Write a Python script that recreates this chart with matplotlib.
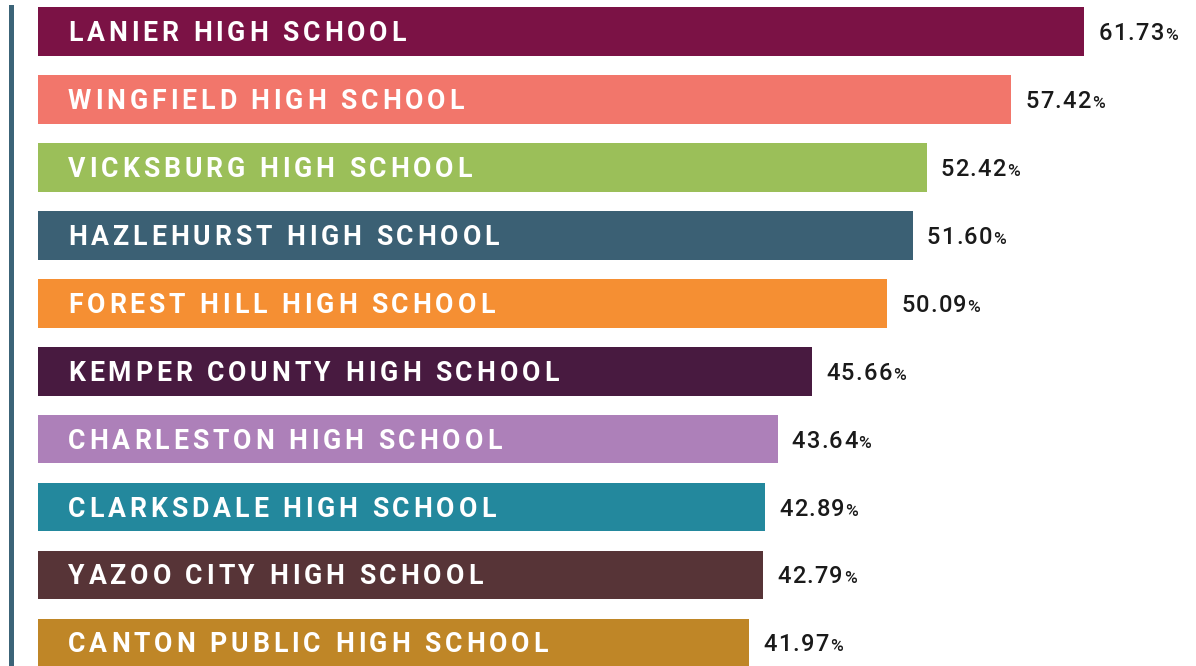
import matplotlib
matplotlib.use('Agg')
import matplotlib.pyplot as plt
from matplotlib.transforms import offset_copy
from matplotlib.font_manager import FontProperties

schools = ["LANIER HIGH SCHOOL", "WINGFIELD HIGH SCHOOL", "VICKSBURG HIGH SCHOOL",
           "HAZLEHURST HIGH SCHOOL", "FOREST HILL HIGH SCHOOL", "KEMPER COUNTY HIGH SCHOOL",
           "CHARLESTON HIGH SCHOOL", "CLARKSDALE HIGH SCHOOL", "YAZOO CITY HIGH SCHOOL",
           "CANTON PUBLIC HIGH SCHOOL"]
values = [61.73, 57.42, 52.42, 51.60, 50.09, 45.66, 43.64, 42.89, 42.79, 41.97]
value_labels = ["61.73", "57.42", "52.42", "51.60", "50.09", "45.66", "43.64", "42.89", "42.79", "41.97"]
colors = ["#7B1245", "#F2766B", "#9BBF59", "#3B6074", "#F58F33", "#481A40",
          "#AD80B9", "#23889D", "#573437", "#BF8627"]

W, H = 1196, 666
fig = plt.figure(figsize=(W / 100, H / 100), dpi=100)
ax = fig.add_axes([38 / W, 0, (W - 38) / W, (H - 7) / H])
ax.set_xlim(0, (W - 38) / 16.95)
ax.set_ylim(9.341, -0.364)

ypos = list(range(len(schools)))
ax.barh(ypos, values, height=0.716, color=colors)

for s in ['top', 'right', 'bottom']:
    ax.spines[s].set_visible(False)
ax.spines['left'].set_position(('outward', 19.5))
ax.spines['left'].set_color('#3C6478')
ax.spines['left'].set_linewidth(3.6)
ax.set_xticks([])
ax.set_yticks([])

renderer = fig.canvas.get_renderer()


def width_px(s, prop):
    w1, _, _ = renderer.get_text_width_height_descent(s + "|", prop, ismath=False)
    w2, _, _ = renderer.get_text_width_height_descent("|", prop, ismath=False)
    return w1 - w2


def spaced_text(x, y, s, prop, spacing, start_px, color, cap_px):
    for k, c in enumerate(s):
        px = start_px + width_px(s[:k], prop) + k * spacing
        tr = offset_copy(ax.transData, fig=fig, x=px, y=-cap_px / 2, units='dots')
        ax.text(x, y, c, transform=tr, fontproperties=prop, color=color,
                ha='left', va='baseline')
    return start_px + width_px(s, prop) + (len(s) - 1) * spacing


label_prop = FontProperties(family='Roboto', weight='bold', size=19.2)
num_prop = FontProperties(family='Roboto', weight='medium', size=17.0)
pct_prop = FontProperties(family='Roboto', weight='medium', size=12.5)

for i, (name, v, vl) in enumerate(zip(schools, values, value_labels)):
    spaced_text(0, i, name, label_prop, 3.9, 30, 'white', 19)
    end = spaced_text(v, i, vl, num_prop, 1.3, 14, '#1a1a1a', 17)
    tr = offset_copy(ax.transData, fig=fig, x=end + 1.0, y=-8.5, units='dots')
    ax.text(v, i, "%", transform=tr, fontproperties=pct_prop, color='#1a1a1a',
            ha='left', va='baseline')

fig.savefig('out.png', dpi=100)
